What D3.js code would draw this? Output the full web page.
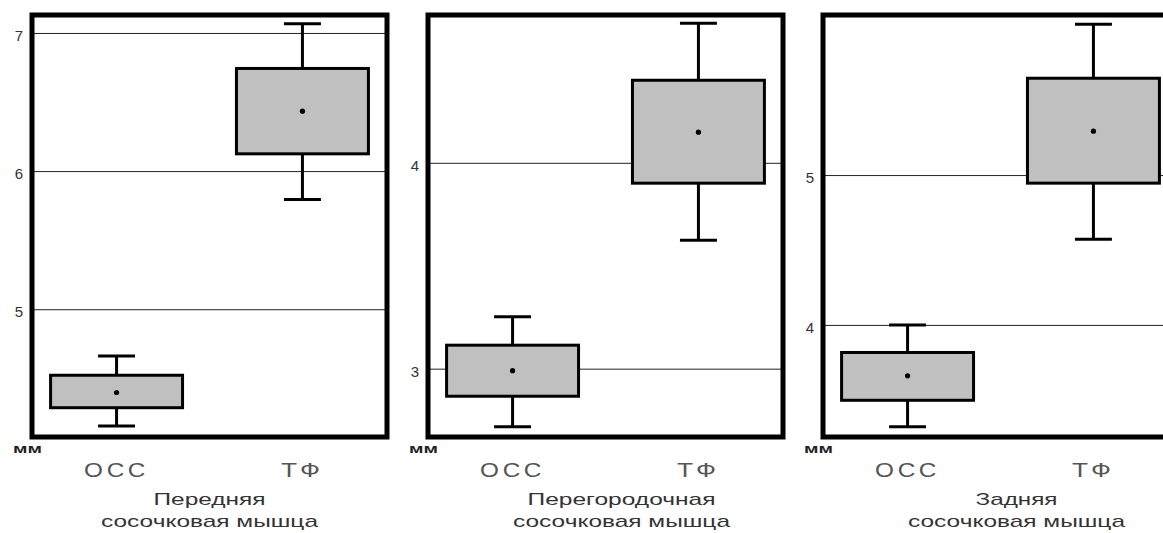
<!DOCTYPE html>
<html>
<head>
<meta charset="utf-8">
<script src="https://cdn.jsdelivr.net/npm/d3@7"></script>
<style>
  html, body { margin: 0; padding: 0; background: #fff; }
  svg { display: block; font-family: "Liberation Sans", Arial, sans-serif; }
</style>
</head>
<body>
<svg width="1163" height="533"></svg>
<script>
'use strict';

// data
const groups = ["ОСС", "ТФ"];
const panelTitles = ["Передняя", "Перегородочная", "Задняя"];
const panelSubtitle = "сосочковая мышца";
const unitLabel = "мм";

// [whisker low, box low, mean, box high, whisker high]
const anteriorStats = [[4.154, 4.287, 4.397, 4.522, 4.662], [5.794, 6.125, 6.434, 6.743, 7.066]];
const septalStats = [[2.718, 2.866, 2.990, 3.114, 3.252], [3.624, 3.901, 4.149, 4.401, 4.678]];
const posteriorStats = [[3.320, 3.497, 3.660, 3.816, 4.000], [4.571, 4.946, 5.293, 5.646, 6.007]];

const yDomains = [[4.075, 7.13], [2.668, 4.718], [3.252, 6.068]];
const yTicks = [[5, 6, 7], [3, 4], [4, 5]];

const allStats = [anteriorStats, septalStats, posteriorStats];

// layout
const panelLeft = [32, 428, 823];
const panelWidth = 355;
const frameTop = 15;
const frameBottom = 437;
const titleWidths = [112, 188, 82];
const captionShift = [0, 16, 16];

const svg = d3.select("svg");

allStats.forEach((stats, i) => drawPanel(i, stats));

function drawPanel(i, stats) {
  const g = svg.append("g").attr("transform", `translate(${panelLeft[i]},0)`);

  const x = d3.scaleBand()
    .domain(groups)
    .range([0, panelWidth])
    .paddingInner(0.29)
    .paddingOuter(0.1);

  const y = d3.scaleLinear()
    .domain(yDomains[i])
    .range([frameBottom, frameTop]);

  // grid lines + tick labels
  const axis = d3.axisLeft(y)
    .tickValues(yTicks[i])
    .tickSize(-panelWidth)
    .tickPadding(9)
    .tickFormat(d3.format("d"));

  const ax = g.append("g").call(axis);
  ax.select(".domain").remove();
  ax.selectAll(".tick line").attr("stroke", "#222").attr("stroke-width", 1);
  ax.selectAll(".tick text")
    .attr("font-size", 15)
    .attr("font-family", "Liberation Sans, Arial, sans-serif")
    .attr("fill", "#333")
    .attr("dy", "0.5em");

  const bw = x.bandwidth();
  const cap = bw * 0.28;

  const box = g.selectAll(".box")
    .data(stats)
    .join("g")
    .attr("class", "box")
    .attr("transform", (d, j) => `translate(${x(groups[j])},0)`);

  // whiskers
  box.append("line")
    .attr("x1", bw / 2).attr("x2", bw / 2)
    .attr("y1", d => y(d[0])).attr("y2", d => y(d[4]))
    .attr("stroke", "#000").attr("stroke-width", 3);

  box.selectAll(".cap")
    .data(d => [d[0], d[4]])
    .join("line")
    .attr("class", "cap")
    .attr("x1", bw / 2 - cap / 2).attr("x2", bw / 2 + cap / 2)
    .attr("y1", d => y(d)).attr("y2", d => y(d))
    .attr("stroke", "#000").attr("stroke-width", 3);

  box.append("rect")
    .attr("x", 0)
    .attr("width", bw)
    .attr("y", d => y(d[3]))
    .attr("height", d => y(d[1]) - y(d[3]))
    .attr("fill", "#c0c0c0")
    .attr("stroke", "#000")
    .attr("stroke-width", 3);

  box.append("circle")
    .attr("cx", bw / 2)
    .attr("cy", d => y(d[2]))
    .attr("r", 2.6)
    .attr("fill", "#000");

  // heavy frame
  g.append("rect")
    .attr("x", 0).attr("y", frameTop)
    .attr("width", panelWidth).attr("height", frameBottom - frameTop)
    .attr("fill", "none")
    .attr("stroke", "#000")
    .attr("stroke-width", 5);

  // "мм" under the lower left corner
  g.append("text")
    .attr("x", -19).attr("y", 453)
    .attr("font-size", 13)
    .attr("font-weight", "bold")
    .attr("fill", "#222")
    .attr("textLength", 29)
    .attr("lengthAdjust", "spacingAndGlyphs")
    .text(unitLabel);

  // group names
  g.selectAll(".grp")
    .data(groups)
    .join("text")
    .attr("class", "grp")
    .attr("x", d => x(d) + bw / 2)
    .attr("y", 477)
    .attr("text-anchor", "middle")
    .attr("font-size", 20)
    .attr("letter-spacing", 3)
    .attr("fill", "#555")
    .attr("textLength", d => d.length === 3 ? 65 : 43)
    .attr("lengthAdjust", "spacingAndGlyphs")
    .text(d => d);

  // caption, two lines
  const cx = (x(groups[0]) + x(groups[1])) / 2 + bw / 2 + captionShift[i];

  g.append("text")
    .attr("x", cx).attr("y", 505)
    .attr("text-anchor", "middle")
    .attr("font-size", 17)
    .attr("fill", "#333")
    .attr("textLength", titleWidths[i])
    .attr("lengthAdjust", "spacingAndGlyphs")
    .text(panelTitles[i]);

  g.append("text")
    .attr("x", cx).attr("y", 527)
    .attr("text-anchor", "middle")
    .attr("font-size", 17)
    .attr("fill", "#333")
    .attr("textLength", 217)
    .attr("lengthAdjust", "spacingAndGlyphs")
    .text(panelSubtitle);
}
</script>
</body>
</html>
